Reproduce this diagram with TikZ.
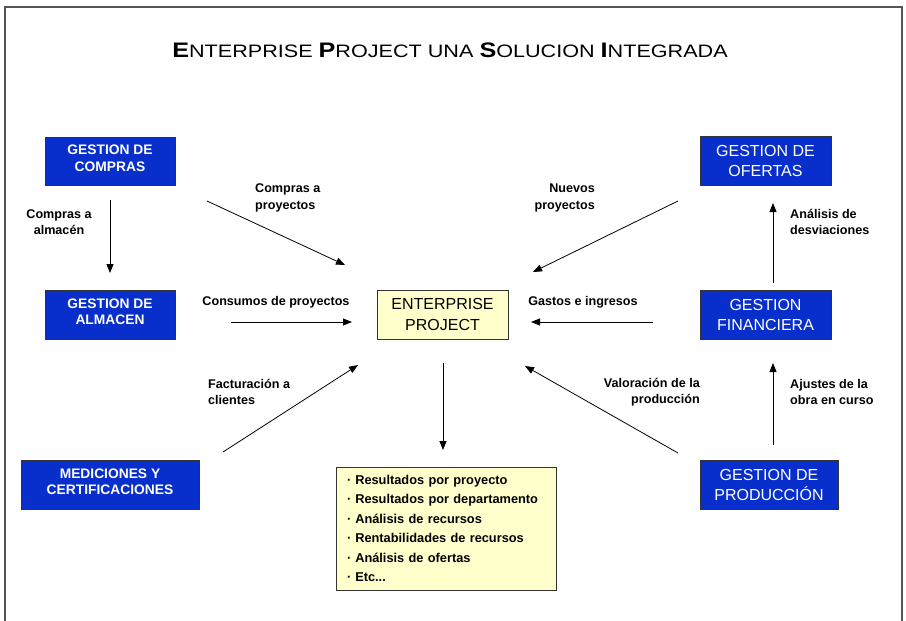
\documentclass[tikz,border=0pt]{standalone}
\usepackage{fontspec}
\usepackage{graphicx}
\setmainfont{Liberation Sans}
\usetikzlibrary{arrows.meta}
\definecolor{boxblue}{RGB}{8,46,204}
\definecolor{boxyellow}{RGB}{255,255,204}
\definecolor{framegray}{RGB}{85,85,85}
\newcommand{\tbig}[1]{{\fontsize{21}{21}\selectfont\bfseries #1}}
\begin{document}
\begin{tikzpicture}[x=1pt,y=-1pt,
  bluesmall/.style={draw=black!80,line width=0.8pt,fill=boxblue,text=white,align=center,inner sep=0pt,
     text depth=6pt,font=\fontsize{13.8}{16.5}\selectfont\bfseries},
  bluebig/.style={draw=black!80,line width=0.8pt,fill=boxblue,text=white,align=center,inner sep=0pt,
     font=\fontsize{16}{20}\selectfont},
  lbl/.style={inner sep=0pt,font=\fontsize{12.6}{16.5}\selectfont\bfseries},
  flow/.style={line width=0.8pt,-{Triangle[length=9pt,width=7pt]}}
]
\useasboundingbox (0,0) rectangle (906,621);
\fill[white] (0,0) rectangle (906,621);
\draw[framegray,line width=2pt] (5,621) -- (5,7) -- (902,7) -- (902,621);

\node[inner sep=0pt,font=\fontsize{18}{18}\selectfont] (title) at (450,50)
  {\scalebox{1.2}[1]{\tbig{E}NTERPRISE \tbig{P}ROJECT UNA \tbig{S}OLUCION \tbig{I}NTEGRADA}};

% boxes
\node[bluesmall,minimum width=130pt,minimum height=48pt] (compras) at (110,161) {GESTION DE\\COMPRAS};
\node[bluesmall,minimum width=130pt,minimum height=49pt] (almacen) at (110,314.5) {GESTION DE\\ALMACEN};
\node[bluesmall,minimum width=178pt,minimum height=49pt] (mediciones) at (110,484.5) {MEDICIONES Y\\CERTIFICACIONES};
\node[bluebig,minimum width=131pt,minimum height=49pt] (ofertas) at (765.5,160.5) {GESTION DE\\OFERTAS};
\node[bluebig,minimum width=131pt,minimum height=49pt] (financiera) at (765.5,314.5) {GESTION\\FINANCIERA};
\node[bluebig,minimum width=138pt,minimum height=49pt] (produccion) at (769,484.5) {GESTION DE\\PRODUCCIÓN};
\node[draw=black!80,line width=0.8pt,fill=boxyellow,align=center,inner sep=0pt,
      minimum width=131pt,minimum height=49pt,font=\fontsize{16}{21}\selectfont] (ep) at (442.5,314.5) {ENTERPRISE\\PROJECT};
\node[draw=black!80,line width=0.8pt,fill=boxyellow,align=left,inner xsep=11pt,inner ysep=0pt,
      text width=198pt,minimum height=123pt,font=\fontsize{12.8}{19.4}\selectfont\bfseries] (results) at (446,528.5)
  {·\hspace{4pt}Resultados por proyecto\\
   ·\hspace{4pt}Resultados por departamento\\
   ·\hspace{4pt}Análisis de recursos\\
   ·\hspace{4pt}Rentabilidades de recursos\\
   ·\hspace{4pt}Análisis de ofertas\\
   ·\hspace{4pt}Etc...};

% labels
\node[lbl,align=center] (l1) at (59,222) {Compras a\\almacén};
\node[lbl,align=left,anchor=west] (l2) at (255,198) {Compras a\\proyectos};
\node[lbl] (l3) at (276,302) {Consumos de proyectos};
\node[lbl,align=left,anchor=west] (l4) at (208,392) {Facturación a\\clientes};
\node[lbl,align=right,anchor=east] (l5) at (595,198) {Nuevos\\proyectos};
\node[lbl] (l6) at (583,302) {Gastos e ingresos};
\node[lbl,align=left,anchor=west] (l7) at (790,222) {Análisis de\\desviaciones};
\node[lbl,align=right,anchor=east] (l8) at (700,392) {Valoración de la\\producción};
\node[lbl,align=left,anchor=west] (l9) at (790,392) {Ajustes de la\\obra en curso};

% arrow end points
\coordinate (a1s) at (110,200); \coordinate (a1e) at (110,273);
\coordinate (a2s) at (207,201); \coordinate (a2e) at (345,265);
\coordinate (a3s) at (231,322); \coordinate (a3e) at (352,322);
\coordinate (a4s) at (223,452); \coordinate (a4e) at (358,365);
\coordinate (a5s) at (443,363); \coordinate (a5e) at (443,450);
\coordinate (a6s) at (678,201); \coordinate (a6e) at (533,272);
\coordinate (a7s) at (653,322); \coordinate (a7e) at (531,322);
\coordinate (a8s) at (678,453); \coordinate (a8e) at (525,366);
\coordinate (a9s) at (773,283); \coordinate (a9e) at (773,203);
\coordinate (a10s) at (773,445); \coordinate (a10e) at (773,363);

\draw[flow] (a1s) -- (a1e);
\draw[flow] (a2s) -- (a2e);
\draw[flow] (a3s) -- (a3e);
\draw[flow] (a4s) -- (a4e);
\draw[flow] (a5s) -- (a5e);
\draw[flow] (a6s) -- (a6e);
\draw[flow] (a7s) -- (a7e);
\draw[flow] (a8s) -- (a8e);
\draw[flow] (a9s) -- (a9e);
\draw[flow] (a10s) -- (a10e);
\end{tikzpicture}
\end{document}
